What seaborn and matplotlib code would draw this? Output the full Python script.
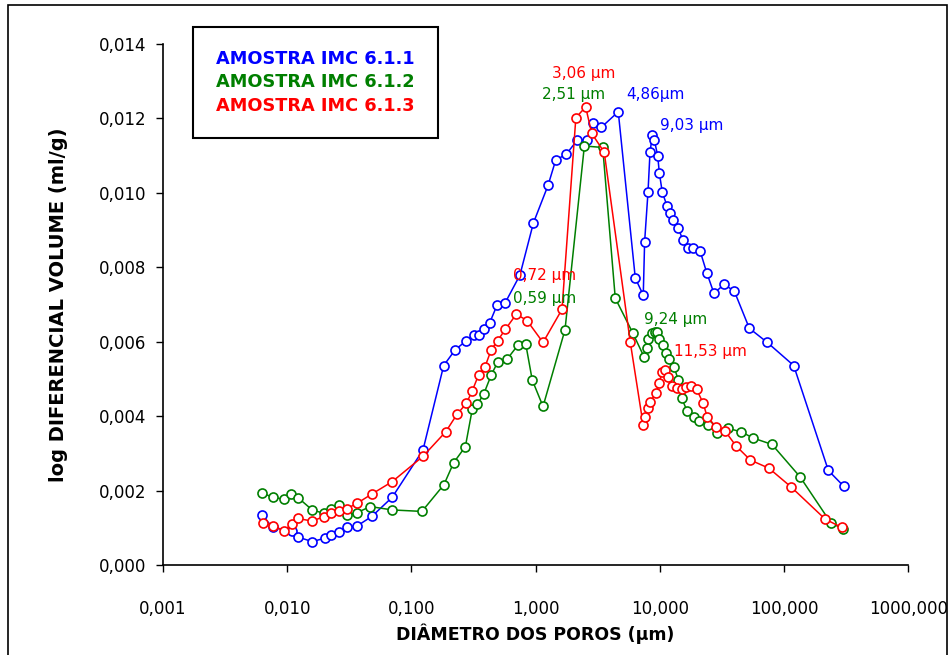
import numpy as np
import pandas as pd
import matplotlib
matplotlib.use('Agg')
import matplotlib.pyplot as plt
import seaborn as sns
from matplotlib.ticker import FuncFormatter, LogLocator, NullLocator
from matplotlib.patches import Rectangle
from matplotlib.lines import Line2D

# diameter (um) and log differential volume (ml/g)
diam_611 = [0.00624, 0.00764, 0.01087, 0.01222, 0.0159, 0.0201, 0.0226, 0.0260, 0.0301, 0.0366,
            0.0482, 0.0701, 0.124, 0.182, 0.225, 0.277, 0.319, 0.348, 0.382, 0.426,
            0.492, 0.570, 0.748, 0.960, 1.259, 1.452, 1.767, 2.17, 2.59, 2.92,
            3.38, 4.63, 6.35, 7.36, 7.55, 8.04, 8.34, 8.71, 9.03, 9.62,
            9.91, 10.47, 11.43, 12.08, 12.77, 14.1, 15.3, 16.8, 18.6, 21.1,
            23.9, 27.3, 32.9, 39.8, 52.6, 73.4, 119.7, 227.5, 304.0]
vol_611 = [0.00135, 0.00101, 0.00092, 0.00075, 0.00063, 0.00072, 0.00081, 0.00089, 0.00101, 0.00105,
           0.00131, 0.00182, 0.00309, 0.00536, 0.00578, 0.00603, 0.00619, 0.00619, 0.00633, 0.00650,
           0.00700, 0.00705, 0.00779, 0.00919, 0.01020, 0.01088, 0.01104, 0.01142, 0.01142, 0.01188,
           0.01176, 0.01218, 0.00771, 0.00725, 0.00869, 0.01003, 0.01109, 0.01155, 0.01142, 0.01100,
           0.01054, 0.01002, 0.00965, 0.00945, 0.00927, 0.00906, 0.00873, 0.00853, 0.00853, 0.00844,
           0.00785, 0.00730, 0.00754, 0.00736, 0.00636, 0.00598, 0.00536, 0.00254, 0.00211]

diam_612 = [0.00624, 0.00764, 0.00937, 0.01067, 0.01222, 0.0159, 0.0197, 0.0226, 0.0260, 0.0301,
            0.0366, 0.0467, 0.0701, 0.1216, 0.183, 0.219, 0.272, 0.309, 0.340, 0.382,
            0.440, 0.495, 0.589, 0.718, 0.832, 0.940, 1.148, 1.725, 2.47, 3.47,
            4.38, 6.05, 7.50, 7.84, 8.08, 8.60, 9.15, 9.44, 9.91, 10.55,
            11.2, 11.9, 13.0, 14.1, 15.0, 16.6, 18.8, 20.8, 24.3, 29.0,
            35.6, 45.1, 56.6, 80.0, 134.6, 237.7, 300.6]
vol_612 = [0.00194, 0.00182, 0.00177, 0.00191, 0.00181, 0.00148, 0.00139, 0.00151, 0.00162, 0.00134,
           0.00141, 0.00157, 0.00148, 0.00144, 0.00216, 0.00275, 0.00318, 0.00418, 0.00432, 0.00459,
           0.00511, 0.00545, 0.00553, 0.00590, 0.00595, 0.00497, 0.00426, 0.00632, 0.01126, 0.01122,
           0.00717, 0.00624, 0.00558, 0.00582, 0.00606, 0.00624, 0.00627, 0.00626, 0.00606, 0.00591,
           0.00570, 0.00553, 0.00533, 0.00497, 0.00448, 0.00414, 0.00397, 0.00388, 0.00376, 0.00354,
           0.00367, 0.00358, 0.00341, 0.00324, 0.00237, 0.00114, 0.00096]

diam_613 = [0.00643, 0.00764, 0.00937, 0.01087, 0.01222, 0.0159, 0.0197, 0.0226, 0.0260, 0.0301,
            0.0366, 0.0482, 0.0701, 0.124, 0.189, 0.233, 0.277, 0.309, 0.348, 0.392,
            0.440, 0.495, 0.570, 0.700, 0.853, 1.148, 1.632, 2.11, 2.53, 2.83,
            3.57, 5.79, 7.36, 7.60, 8.08, 8.34, 9.31, 9.91, 10.42, 11.07,
            11.70, 12.6, 13.8, 15.0, 16.3, 17.7, 19.8, 22.4, 24.1, 28.3,
            33.7, 41.1, 53.6, 75.7, 113.8, 215.0, 291.7]
vol_613 = [0.00114, 0.00105, 0.00092, 0.00110, 0.00125, 0.00118, 0.00130, 0.00139, 0.00144, 0.00151,
           0.00166, 0.00191, 0.00224, 0.00292, 0.00358, 0.00405, 0.00434, 0.00468, 0.00511, 0.00533,
           0.00579, 0.00603, 0.00633, 0.00674, 0.00657, 0.00598, 0.00687, 0.01202, 0.01231, 0.01160,
           0.01109, 0.00598, 0.00375, 0.00397, 0.00423, 0.00439, 0.00461, 0.00490, 0.00519, 0.00524,
           0.00506, 0.00482, 0.00475, 0.00473, 0.00479, 0.00481, 0.00472, 0.00434, 0.00397, 0.00372,
           0.00359, 0.00320, 0.00282, 0.00260, 0.00210, 0.00123, 0.00101]

samples = ['AMOSTRA IMC 6.1.1', 'AMOSTRA IMC 6.1.2', 'AMOSTRA IMC 6.1.3']
colors = ['#0000ff', '#007f00', '#ff0000']

# peak labels: text, x, y, colour index
peak_text = ['3,06 µm', '2,51 µm', '4,86µm', '9,03 µm', '0,72 µm', '0,59 µm', '9,24 µm', '11,53 µm']
peak_x = [1.355, 1.127, 5.35, 10.0, 0.658, 0.658, 7.46, 13.0]
peak_y = [0.01322, 0.01263, 0.01263, 0.01182, 0.00777, 0.00717, 0.00661, 0.00575]
peak_c = [2, 1, 0, 0, 2, 1, 1, 2]

df = pd.concat([
    pd.DataFrame({'d': diam_611, 'v': vol_611, 'amostra': samples[0]}),
    pd.DataFrame({'d': diam_612, 'v': vol_612, 'amostra': samples[1]}),
    pd.DataFrame({'d': diam_613, 'v': vol_613, 'amostra': samples[2]}),
])

sns.set_style('ticks')
plt.rcParams['font.family'] = ['DejaVu Sans']
plt.rcParams['text.color'] = 'black'
plt.rcParams['axes.labelcolor'] = 'black'
plt.rcParams['xtick.color'] = 'black'
plt.rcParams['ytick.color'] = 'black'

fig = plt.figure(figsize=(9.53, 6.55), dpi=100)
ax = fig.add_axes([0.171, 0.1374, 0.782, 0.7954])

for s, c in zip(samples, colors):
    sub = df[df['amostra'] == s]
    sns.lineplot(data=sub, x='d', y='v', ax=ax, color=c, sort=False, estimator=None,
                 marker='o', markersize=6.5, markerfacecolor='white', markeredgecolor=c,
                 markeredgewidth=1.2, linewidth=1.1)

ax.set_xscale('log')
ax.set_xlim(0.001, 1000)
ax.set_ylim(0, 0.014)
ax.xaxis.set_major_locator(LogLocator(base=10, numticks=10))
ax.xaxis.set_minor_locator(NullLocator())
ax.set_yticks(np.arange(0, 0.0141, 0.002))
fmt = FuncFormatter(lambda v, p: f'{v:.3f}'.replace('.', ','))
ax.xaxis.set_major_formatter(fmt)
ax.yaxis.set_major_formatter(fmt)
ax.tick_params(axis='x', length=5, width=1, pad=20, labelsize=12, colors='black')
ax.tick_params(axis='y', length=5, width=1, pad=7, labelsize=12, colors='black')
for sp in ['top', 'right']:
    ax.spines[sp].set_visible(False)
for sp in ['left', 'bottom']:
    ax.spines[sp].set_color('black')
    ax.spines[sp].set_linewidth(1.2)

ax.set_xlabel('DIÂMETRO DOS POROS (µm)', fontsize=12.5, fontweight='bold', labelpad=4)
ax.set_ylabel('log DIFERENCIAL VOLUME (ml/g)', fontsize=14, fontweight='bold', labelpad=22)

for t, x, y, ci in zip(peak_text, peak_x, peak_y, peak_c):
    ax.text(x, y, t, color=colors[ci], fontsize=11, ha='left', va='center')

handles = [Line2D([], [], linestyle='none', marker=None) for _ in samples]
leg = ax.legend(handles, samples, loc='upper left', bbox_to_anchor=(0.040, 1.033),
                borderaxespad=0, handlelength=0, handletextpad=0, labelcolor=colors,
                prop={'size': 12.8, 'weight': 'bold'}, frameon=True, fancybox=False,
                edgecolor='black', borderpad=1.3, labelspacing=0.3)
leg.get_frame().set_linewidth(1.5)
leg.get_frame().set_alpha(1)

fig.patches.append(Rectangle((0.0084, -0.02), 0.9853, 1.012, transform=fig.transFigure,
                             fill=False, edgecolor='black', linewidth=1.2))

fig.savefig('out.png', dpi=100)
